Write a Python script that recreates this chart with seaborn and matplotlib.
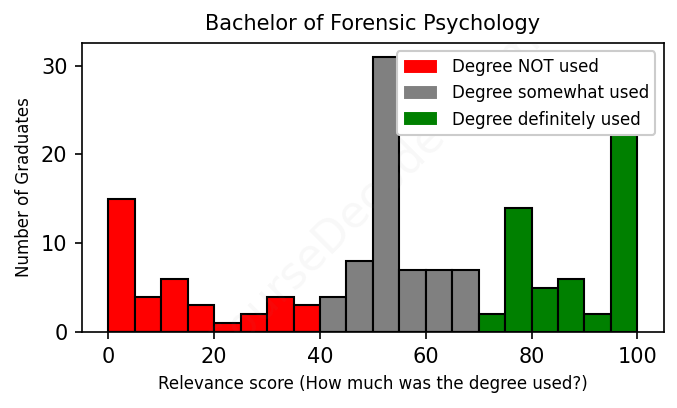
import numpy as np
import pandas as pd
import matplotlib
matplotlib.use('Agg')
import matplotlib.pyplot as plt
from matplotlib.patches import Patch
import seaborn as sns

# Bin edges (width 5) and counts per bin
bin_edges = list(range(0, 105, 5))
not_used_counts = [15, 4, 6, 3, 1, 2, 4, 3]           # 0-40
somewhat_counts = [4, 8, 31, 7, 7, 7]                 # 40-70
definitely_counts = [2, 14, 5, 6, 2, 27]              # 70-100 (last bar top hidden by legend)

group_labels = ['Degree NOT used', 'Degree somewhat used', 'Degree definitely used']
group_colors = ['red', 'gray', 'green']

counts = not_used_counts + somewhat_counts + definitely_counts
centers = [e + 2.5 for e in bin_edges[:-1]]
groups = ([group_labels[0]] * len(not_used_counts) + [group_labels[1]] * len(somewhat_counts)
          + [group_labels[2]] * len(definitely_counts))
df = pd.DataFrame({'score': centers, 'count': counts, 'group': groups})

sns.set_style('ticks')
plt.rcParams['font.family'] = ['DejaVu Sans']
plt.rcParams['text.color'] = 'black'
plt.rcParams['axes.labelcolor'] = 'black'
plt.rcParams['xtick.color'] = 'black'
plt.rcParams['ytick.color'] = 'black'

fig = plt.figure(figsize=(4.52, 2.72), dpi=150)
ax = fig.add_axes([0.121, 0.186, 0.858, 0.709])

for label, color in zip(group_labels, group_colors):
    sub = df[df['group'] == label]
    sns.histplot(x=sub['score'], weights=sub['count'], bins=bin_edges, color=color,
                 alpha=1, edgecolor='black', linewidth=1, ax=ax)

# Watermark
ax.text(0.5, 0.48, 'CourseDecoded.com', transform=ax.transAxes, fontsize=21,
        rotation=45, ha='center', va='center', color='gray', alpha=0.06, clip_on=True)

ax.set_xlim(-5, 105)
ax.set_ylim(0, 32.55)
ax.set_xticks([0, 20, 40, 60, 80, 100])
ax.set_yticks([0, 10, 20, 30])
ax.tick_params(labelsize=10, length=3.5, width=0.8)
for s in ax.spines.values():
    s.set_visible(True)
    s.set_color('black')
    s.set_linewidth(0.8)

ax.set_title('Bachelor of Forensic Psychology', fontsize=10)
ax.set_xlabel('Relevance score (How much was the degree used?)', fontsize=8)
ax.set_ylabel('Number of Graduates', fontsize=8)

handles = [Patch(facecolor=c, label=l) for l, c in zip(group_labels, group_colors)]
ax.legend(handles=handles, loc='upper right', fontsize=8, framealpha=1,
          labelspacing=0.5, handlelength=2.1, handleheight=1.0)

fig.savefig('out.png', dpi=150)
